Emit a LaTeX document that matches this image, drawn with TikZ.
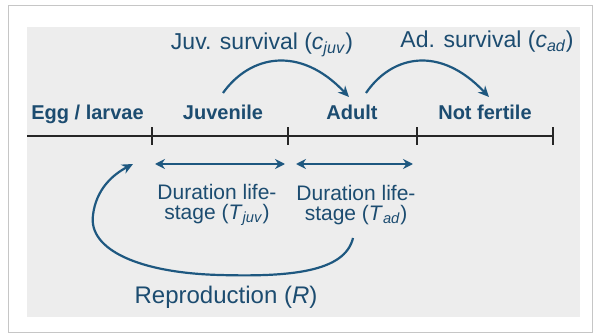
\documentclass[tikz,border=0pt]{standalone}
\usepackage{fontspec}
\setmainfont{Liberation Sans}
\usetikzlibrary{arrows.meta}
\definecolor{stagetext}{RGB}{28,76,112}
\definecolor{arrowblue}{RGB}{30,88,128}
\definecolor{panelgray}{RGB}{237,237,237}
\begin{document}
\begin{tikzpicture}[x=1pt,y=-1pt,
	stage/.style={font=\bfseries\fontsize{20}{24}\selectfont,text=stagetext,inner sep=0pt,anchor=base},
	rate/.style={font=\fontsize{23}{27}\selectfont,text=stagetext,inner sep=0pt,anchor=base},
	dur/.style={font=\fontsize{21}{20}\selectfont,text=stagetext,inner sep=0pt,align=center},
	surv/.style={arrowblue,line width=2.2pt,-{Stealth[length=11pt,width=10pt]}},
	span/.style={arrowblue,line width=2.2pt,{Stealth[length=10pt,width=10pt]}-{Stealth[length=10pt,width=10pt]}},
	tick/.style={line width=1.2pt,black!85}]
	\useasboundingbox (0,0) rectangle (595,334);
	\draw [fill=white,draw=gray!45,line width=1pt] (8,6) rectangle (592,332);
	\fill [panelgray] (27,27) rectangle (580,317);
	% time line with the stages
	\coordinate (tl0) at (27,136);
	\coordinate (tl1) at (152,136);
	\coordinate (tl2) at (288,136);
	\coordinate (tl3) at (417,136);
	\coordinate (tl4) at (553,136);
	\draw [tick] (tl0)--(tl4);
	\foreach \t in {tl1,tl2,tl3,tl4}
		\draw [tick] ([yshift=-9pt]\t)--([yshift=9pt]\t);
	\node [stage] (egg) at (87.5,120) {Egg / larvae};
	\node [stage] (juv) at (223,120) {Juvenile};
	\node [stage] (adult) at (352,120) {Adult};
	\node [stage] (notfert) at (485,120) {Not fertile};
	% survival
	\node [rate] (cjuv) at (262,50) {Juv. survival (\textit{c}\textsubscript{\textit{juv}})};
	\node [rate] (cad) at (487,48) {Ad. survival (\textit{c}\textsubscript{\textit{ad}})};
	\coordinate (juvout) at (223,93);
	\coordinate (adin) at (349,97);
	\coordinate (adout) at (366,93);
	\coordinate (nfin) at (489,97);
	\draw [surv] (juvout) .. controls (250,55) and (300,45) .. (adin);
	\draw [surv] (adout) .. controls (392,55) and (440,45) .. (nfin);
	% durations
	\draw [span] ([xshift=3pt]tl1|-0,164)--([xshift=-3pt]tl2|-0,164);
	\draw [span] ([xshift=8pt]tl2|-0,164)--([xshift=-4pt]tl3|-0,164);
	\node [dur] (tjuv) at (217,205) {Duration life-\\stage (\textit{T}\textsubscript{\textit{juv}})};
	\node [dur] (tad) at (356,205) {Duration life-\\stage (\textit{T}\textsubscript{\textit{ad}})};
	% reproduction
	\node [rate,font=\fontsize{24}{28}\selectfont] (repro) at (226,303) {Reproduction (\textit{R})};
	\coordinate (rstart) at (353,238);
	\coordinate (rend) at (133,164);
	\draw [surv] (rstart) .. controls (345,272) and (290,277) .. (220,275)
		.. controls (140,273) and (88,250) .. (93,215)
		.. controls (96,190) and (112,175) .. (rend);
\end{tikzpicture}
\end{document}
